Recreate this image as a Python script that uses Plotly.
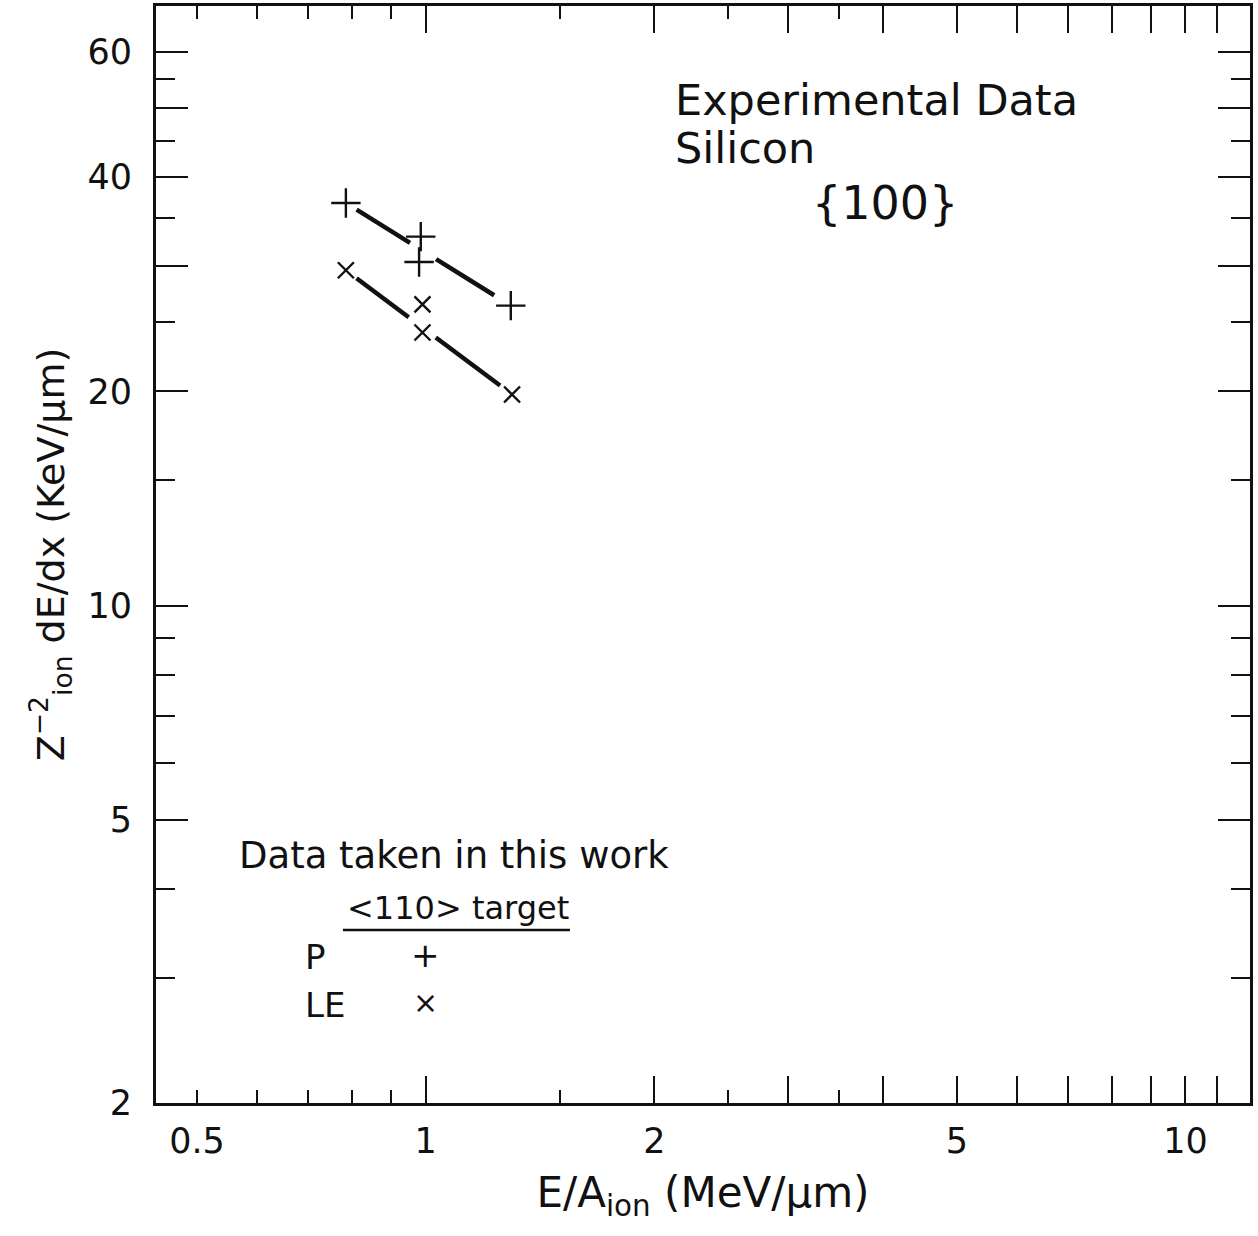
import numpy as np
import plotly.graph_objects as go

# ---- data ----
p_energy = [0.785, 0.985, 0.98, 1.294]      # E/A (MeV/um), P with <110> target
p_dedx = [36.8, 33.0, 30.4, 26.4]           # Z^-2 dE/dx (KeV/um)
le_energy = [0.785, 0.99, 0.99, 1.299]      # LE
le_dedx = [29.6, 26.5, 24.2, 19.8]

x_label_ticks = [0.5, 1, 2, 5, 10]
x_label_text = ["0.5", "1", "2", "5", "10"]
x_short_ticks = [0.6, 0.7, 0.8, 0.9, 1.5, 2.5, 3.5]
x_long_ticks = [1, 2, 3, 4, 5, 6, 7, 8, 9, 10, 11]

y_label_ticks = [2, 5, 10, 20, 40, 60]
y_label_text = ["2", "5", "10", "20", "40", "60"]
y_short_ticks = [3, 4, 6, 7, 8, 9, 15, 25, 35, 45, 55]
y_long_ticks = [5, 10, 20, 30, 40, 50, 60]

x_range = [0.4415, 12.16]
y_range = [2.0, 69.6]

# style: visible portions (fractions) of the line joining first and last points
P_SEGMENTS = [(0.065, 0.389), (0.547, 0.899)]
LE_SEGMENTS = [(0.064, 0.378), (0.541, 0.928)]

FONT = "DejaVu Sans"
BLACK = "#111111"

W, H = 1258, 1236
ML, MR, MT, MB = 156, 8, 6, 133

XR = [np.log10(x_range[0]), np.log10(x_range[1])]
YR = [np.log10(y_range[0]), np.log10(y_range[1])]


def segment_trace(xs, ys, segs):
    lx0, lx1 = np.log10(xs[0]), np.log10(xs[-1])
    ly0, ly1 = np.log10(ys[0]), np.log10(ys[-1])
    sx, sy = [], []
    for a, b in segs:
        for t in (a, b):
            sx.append(10 ** (lx0 + t * (lx1 - lx0)))
            sy.append(10 ** (ly0 + t * (ly1 - ly0)))
        sx.append(None)
        sy.append(None)
    return go.Scatter(x=sx, y=sy, mode="lines",
                      line=dict(color=BLACK, width=4.5),
                      showlegend=False, hoverinfo="skip")


fig = go.Figure()
fig.add_trace(segment_trace(p_energy, p_dedx, P_SEGMENTS))
fig.add_trace(segment_trace(le_energy, le_dedx, LE_SEGMENTS))
fig.add_trace(go.Scatter(x=p_energy, y=p_dedx, mode="markers", name="P",
                         marker=dict(symbol="cross-thin", size=21,
                                     line=dict(color=BLACK, width=2.4)),
                         showlegend=False))
fig.add_trace(go.Scatter(x=le_energy, y=le_dedx, mode="markers", name="LE",
                         marker=dict(symbol="x-thin", size=16,
                                     line=dict(color=BLACK, width=2.4)),
                         showlegend=False))
# empty trace so the overlaying tick-only axes are drawn
fig.add_trace(go.Scatter(x=[], y=[], xaxis="x2", yaxis="y2",
                         showlegend=False, hoverinfo="skip"))

base = dict(
    type="log", showgrid=False, zeroline=False,
    showline=True, linecolor=BLACK, linewidth=3, mirror="ticks",
    ticks="inside", tickcolor=BLACK, tickwidth=2.4,
    tickmode="array",
)
tickfont = dict(family=FONT, size=35, color=BLACK)

fig.update_layout(
    xaxis=dict(
        **base, range=XR,
        tickvals=x_label_ticks, ticktext=x_label_text, ticklen=13,
        tickfont=tickfont, ticklabelstandoff=5,
        minor=dict(tickmode="array", tickvals=x_short_ticks, ticks="inside",
                   ticklen=13, tickwidth=2.4, tickcolor=BLACK, showgrid=False),
        title=dict(text="E/A<sub>ion</sub> (MeV/μm)",
                   font=dict(family=FONT, size=42, color=BLACK), standoff=18),
    ),
    yaxis=dict(
        **base, range=YR,
        tickvals=y_label_ticks, ticktext=y_label_text, ticklen=19,
        tickfont=tickfont, ticklabelstandoff=14,
        minor=dict(tickmode="array", tickvals=y_short_ticks, ticks="inside",
                   ticklen=19, tickwidth=2.4, tickcolor=BLACK, showgrid=False),
        title=dict(text="Z<sup>−2</sup><sub>ion</sub> dE/dx (KeV/μm)",
                   font=dict(family=FONT, size=38, color=BLACK), standoff=12),
    ),
    xaxis2=dict(
        **base, range=XR, overlaying="x", anchor="y2", side="bottom",
        tickvals=x_long_ticks, ticklen=27, showticklabels=False,
    ),
    yaxis2=dict(
        **base, range=YR, overlaying="y", anchor="x2", side="left",
        tickvals=y_long_ticks, ticklen=32, showticklabels=False,
    ),
)

ann = []


def txt(text, x, y, size, xanchor="left"):
    ann.append(dict(text=text, x=x, y=y, xref="paper", yref="paper",
                    xanchor=xanchor, yanchor="middle", showarrow=False,
                    font=dict(family=FONT, size=size, color=BLACK)))


txt("Experimental Data", 0.4726, 0.9143, 43)
txt("Silicon", 0.4726, 0.8706, 43)
txt("{100}", 0.6664, 0.8204, 46, xanchor="center")
txt("Data taken in this work", 0.074, 0.2252, 37)
txt("&lt;110&gt; target", 0.1728, 0.1778, 32)
txt("P", 0.1344, 0.1331, 34)
txt("LE", 0.1344, 0.0893, 34)
txt("+", 0.2459, 0.1349, 34, xanchor="center")
txt("×", 0.2459, 0.0912, 30, xanchor="center")

fig.update_layout(
    width=W, height=H,
    margin=dict(l=ML, r=MR, t=MT, b=MB, autoexpand=False),
    paper_bgcolor="white", plot_bgcolor="white",
    annotations=ann,
    shapes=[dict(type="line", xref="paper", yref="paper",
                 x0=0.1709, x1=0.3784, y0=0.1577, y1=0.1577,
                 line=dict(color=BLACK, width=2.5))],
    showlegend=False,
)

fig.write_html("out.html")
